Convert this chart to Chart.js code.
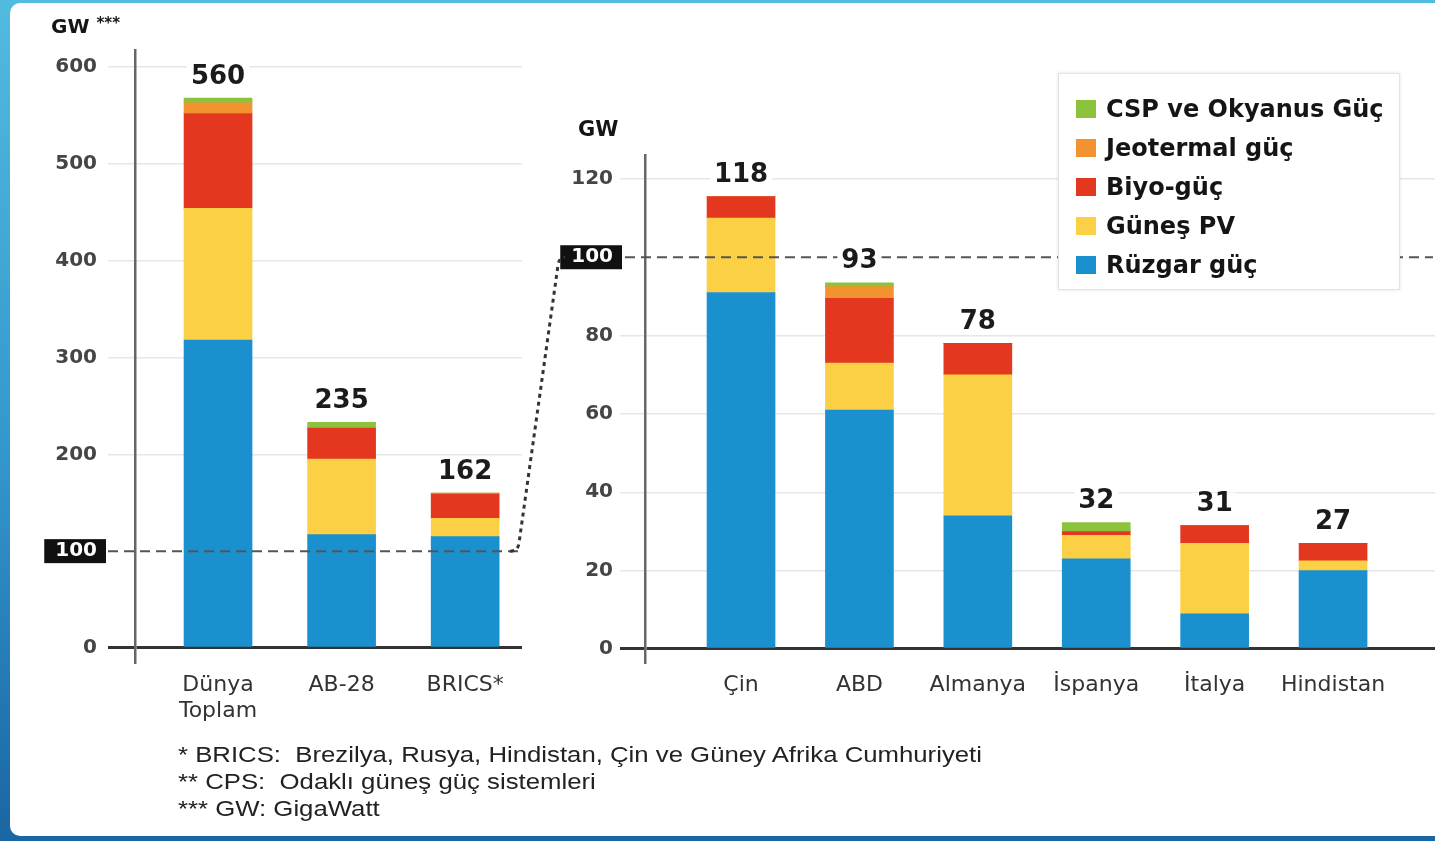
<html>

<head>
    <script src="https://cdn.jsdelivr.net/npm/chart.js@4.4.1/dist/chart.umd.min.js"></script>
    <style>
        body {
            margin: 0;
            width: 1435px;
            height: 841px;
            overflow: hidden;
            position: relative;
            background: linear-gradient(180deg, #52bbe0 0%, #3396cb 55%, #1a66a2 100%);
            font-family: "DejaVu Sans", sans-serif;
        }
        #page {
            position: absolute;
            left: 10px;
            top: 3px;
            width: 1425px;
            height: 833px;
            background: #fff;
            border-radius: 10px 0 0 10px;
        }
        canvas {
            position: absolute;
            left: 0;
            top: 0;
        }
        .unit {
            position: absolute;
            font-weight: bold;
            color: #151515;
        }
        #legend {
            position: absolute;
            left: 1058px;
            top: 73px;
            width: 342px;
            height: 217px;
            background: #fff;
            border: 1px solid #e3e3e3;
            box-shadow: 0 0 3px rgba(0, 0, 0, 0.12);
            padding-top: 15px;
            box-sizing: border-box;
        }
        .row {
            height: 39px;
            display: flex;
            align-items: center;
            font-weight: bold;
            font-size: 24px;
            color: #151515;
            white-space: nowrap;
        }
        .sw {
            width: 20px;
            height: 18px;
            margin-left: 17px;
            margin-right: 10px;
        }
        #notes {
            position: absolute;
            left: 178px;
            top: 741px;
            font-family: "Liberation Sans", Arial, sans-serif;
            font-size: 22px;
            line-height: 27px;
            color: #222;
            transform: scaleX(1.17);
            transform-origin: left top;
            white-space: nowrap;
        }
    </style>
</head>

<body>
    <div id="page"></div>
    <canvas id="leftChart" width="1435" height="841"></canvas>
    <canvas id="rightChart" width="1435" height="841"></canvas>
    <div class="unit" style="left:51px; top:14px; font-size:20px;">GW <span style="font-size:15px; vertical-align:top;">***</span></div>
    <div class="unit" style="left:578px; top:117px; font-size:21px;">GW</div>
    <div id="legend"></div>
    <div id="notes">
        * BRICS:&nbsp; Brezilya, Rusya, Hindistan, Çin ve Güney Afrika Cumhuriyeti<br>
        ** CPS:&nbsp; Odaklı güneş güç sistemleri<br>
        *** GW: GigaWatt
    </div>
</body>
<script>
    // series, bottom to top
    var seriesNames = ['Rüzgar güç', 'Güneş PV', 'Biyo-güç', 'Jeotermal güç', 'CSP ve Okyanus Güç'];
    var seriesColors = ['#1a90cf', '#fcd045', '#e3381f', '#f2932f', '#8dc23d'];

    var leftLabels = [['Dünya', 'Toplam'], 'AB-28', 'BRICS*'];
    var leftWind = [318, 117, 115];
    var leftSolar = [136, 78, 19];
    var leftBio = [98, 32, 25];
    var leftGeo = [11, 1, 1];
    var leftCsp = [5, 5, 0];
    var leftTotals = ['560', '235', '162'];
    var leftTicks = [0, 100, 200, 300, 400, 500, 600];

    var rightLabels = ['Çin', 'ABD', 'Almanya', 'İspanya', 'İtalya', 'Hindistan'];
    var rightWind = [91, 61, 34, 23, 9, 20];
    var rightSolar = [19, 12, 36, 6, 18, 2.5];
    var rightBio = [5.5, 16.5, 8, 1, 4.5, 4.5];
    var rightGeo = [0, 3, 0, 0, 0, 0];
    var rightCsp = [0, 1, 0, 2.3, 0, 0];
    var rightTotals = ['118', '93', '78', '32', '31', '27'];
    var rightTicks = [0, 20, 40, 60, 80, 100, 120];

    var leftChart, rightChart;

    function buildChart(id, labels, series, totals, ticks, box) {
        var datasets = series.map(function (vals, i) {
            return {
                label: seriesNames[i],
                data: vals.map(function (v, j) { return { x: j, y: v }; }),
                backgroundColor: seriesColors[i],
                barThickness: 68,
                stack: 'total'
            };
        });

        var extras = {
            id: 'extras',
            afterDatasetsDraw: function (chart) {
                var ctx = chart.ctx, xs = chart.scales.x, ys = chart.scales.y, area = chart.chartArea;
                ctx.save();
                // dashed line at 100
                var y100 = ys.getPixelForValue(100);
                ctx.setLineDash([10, 6]);
                ctx.lineWidth = 2;
                ctx.strokeStyle = '#555';
                ctx.beginPath();
                ctx.moveTo(area.left - box.dashLead, y100);
                ctx.lineTo(area.right - 2, y100);
                ctx.stroke();
                ctx.setLineDash([]);

                // totals above the bars
                ctx.font = 'bold 26px "DejaVu Sans"';
                ctx.textAlign = 'center';
                ctx.textBaseline = 'middle';
                labels.forEach(function (l, j) {
                    var sum = series.reduce(function (s, arr) { return s + arr[j]; }, 0);
                    var x = xs.getPixelForValue(j), y = ys.getPixelForValue(sum) - 21;
                    var w = ctx.measureText(totals[j]).width;
                    ctx.fillStyle = '#fff';
                    ctx.fillRect(x - w / 2 - 4, y - 12, w + 8, 24);
                    ctx.fillStyle = '#1b1b1b';
                    ctx.fillText(totals[j], x, y);
                });

                if (box.link) box.link(chart);
                ctx.restore();
            }
        };

        return new Chart(document.getElementById(id), {
            type: 'bar',
            data: { datasets: datasets },
            options: {
                responsive: false,
                animation: false,
                events: [],
                layout: { padding: box.padding },
                plugins: { legend: { display: false }, tooltip: { enabled: false } },
                scales: {
                    x: {
                        type: 'linear',
                        bounds: 'data',
                        offset: false,
                        min: box.xMin,
                        max: box.xMax,
                        afterBuildTicks: function (s) {
                            s.ticks = labels.map(function (l, i) { return { value: i }; });
                        },
                        afterFit: function (s) { s.height = 80; },
                        grid: { display: false, drawTicks: false },
                        border: { display: false },
                        ticks: {
                            autoSkip: false,
                            maxRotation: 0,
                            padding: 10,
                            color: '#333',
                            font: { family: 'DejaVu Sans', size: 22, lineHeight: 1.2 },
                            callback: function (v) { return labels[v]; }
                        }
                    },
                    y: {
                        stacked: true,
                        bounds: 'data',
                        min: box.yMin,
                        max: box.yMax,
                        afterBuildTicks: function (s) {
                            s.ticks = ticks.map(function (v) { return { value: v }; });
                        },
                        afterFit: function (s) { s.width = 110; },
                        grid: {
                            color: function (c) {
                                if (c.tick.value === 0) return '#333';
                                if (c.tick.value === 100) return 'rgba(0,0,0,0)';
                                return '#e6e6e6';
                            },
                            lineWidth: function (c) { return c.tick.value === 0 ? 3 : 1.5; },
                            tickLength: box.tickLength
                        },
                        border: { color: '#666', width: 2.5 },
                        ticks: {
                            padding: box.tickPad,
                            font: { family: 'DejaVu Sans', size: 20, weight: 'bold' },
                            color: function (c) { return c.tick.value === 100 ? '#fff' : '#454545'; },
                            showLabelBackdrop: function (c) { return c.tick.value === 100; },
                            backdropColor: '#111',
                            backdropPadding: { left: 11, right: 9, top: 0, bottom: 0 }
                        }
                    }
                }
            },
            plugins: [extras]
        });
    }

    leftChart = buildChart('leftChart', leftLabels,
        [leftWind, leftSolar, leftBio, leftGeo, leftCsp], leftTotals, leftTicks, {
            padding: { left: 25, top: 50, right: 913, bottom: 99 },
            xMin: -0.672, xMax: 2.46,
            yMin: -14.5, yMax: 617.6,
            tickLength: 27, tickPad: 11, dashLead: 27
        });

    rightChart = buildChart('rightChart', rightLabels,
        [rightWind, rightSolar, rightBio, rightGeo, rightCsp], rightTotals, rightTicks, {
            padding: { left: 535, top: 155, right: 0, bottom: 99 },
            xMin: -0.811, xMax: 5.861,
            yMin: -3.32, yMax: 126.1,
            tickLength: 25, tickPad: 7, dashLead: 20,
            link: function (chart) {
                // dotted connector between the two 100 marks
                var ctx = chart.ctx;
                var ly = leftChart.scales.y.getPixelForValue(100);
                var ry = chart.scales.y.getPixelForValue(100);
                var x0 = leftChart.chartArea.right - 4;
                var x1 = chart.chartArea.left - 80;
                ctx.setLineDash([4, 4]);
                ctx.lineWidth = 3;
                ctx.strokeStyle = '#333';
                ctx.beginPath();
                ctx.moveTo(x0 - 8, ly);
                ctx.quadraticCurveTo(x0, ly, x0 + 1, ly - 8);
                ctx.lineTo(x1 - 7, ry + 8);
                ctx.quadraticCurveTo(x1 - 6, ry, x1, ry);
                ctx.stroke();
                ctx.setLineDash([]);
            }
        });

    // legend from the series arrays, top item first
    var legend = document.getElementById('legend');
    for (var i = seriesNames.length - 1; i >= 0; i--) {
        var row = document.createElement('div');
        row.className = 'row';
        row.innerHTML = '<div class="sw" style="background:' + seriesColors[i] + '"></div>' + seriesNames[i];
        legend.appendChild(row);
    }
</script>

</html>
